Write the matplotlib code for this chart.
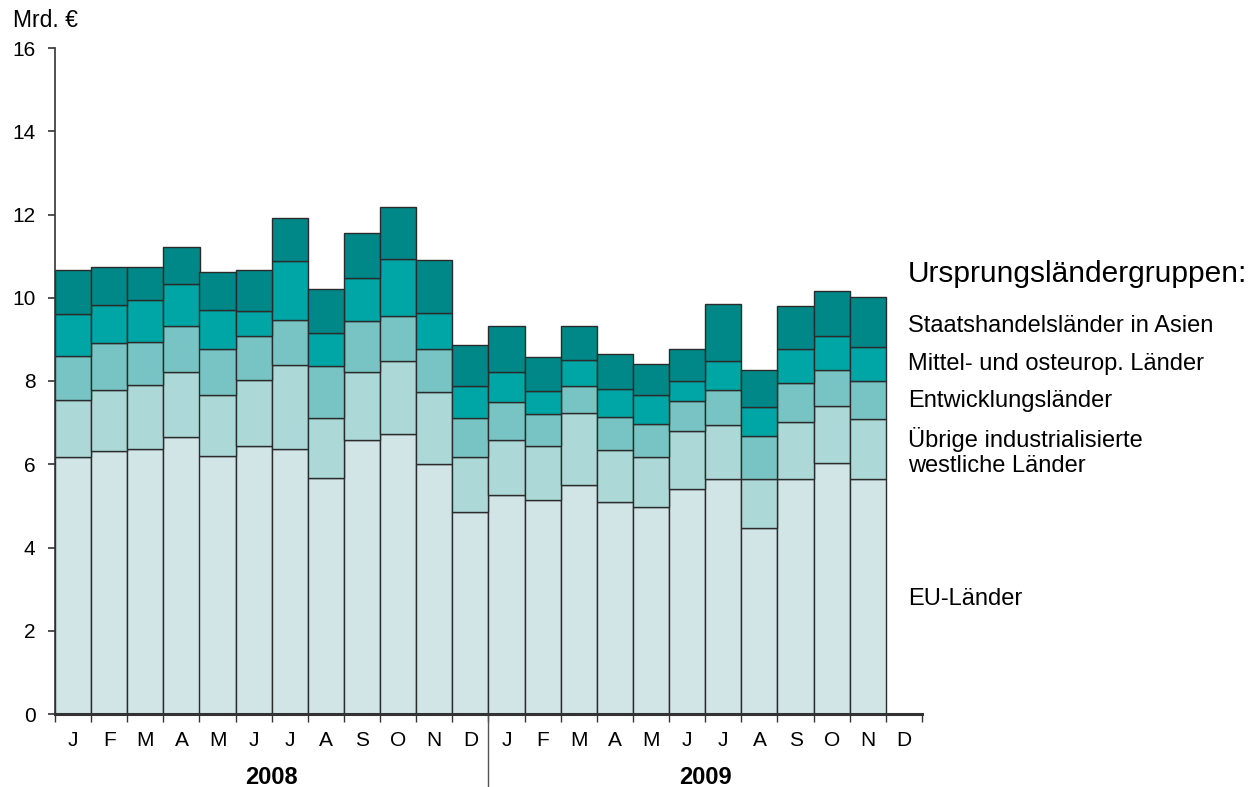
import numpy as np
import matplotlib
matplotlib.use("Agg")
import matplotlib.pyplot as plt
import matplotlib.transforms as mtransforms

plt.rcParams['font.family'] = ['Liberation Sans', 'DejaVu Sans']

# monthly imports by country group, Mrd. EUR (Jan 2008 .. Nov 2009)
months = ['J', 'F', 'M', 'A', 'M', 'J', 'J', 'A', 'S', 'O', 'N', 'D',
          'J', 'F', 'M', 'A', 'M', 'J', 'J', 'A', 'S', 'O', 'N', 'D']
years = ['2008', '2009']

eu = [6.17, 6.32, 6.37, 6.65, 6.21, 6.43, 6.37, 5.67, 6.58, 6.73, 6.00, 4.85,
      5.25, 5.13, 5.50, 5.09, 4.97, 5.41, 5.65, 4.46, 5.65, 6.04, 5.65]
uebrige = [1.37, 1.47, 1.54, 1.57, 1.45, 1.59, 2.01, 1.43, 1.64, 1.76, 1.74, 1.33,
           1.33, 1.32, 1.74, 1.26, 1.20, 1.38, 1.29, 1.18, 1.37, 1.36, 1.43]
entwicklung = [1.06, 1.13, 1.03, 1.10, 1.11, 1.06, 1.08, 1.26, 1.21, 1.08, 1.03, 0.92,
               0.92, 0.76, 0.65, 0.79, 0.80, 0.73, 0.84, 1.05, 0.92, 0.86, 0.93]
mittelost = [1.02, 0.91, 1.01, 1.00, 0.94, 0.60, 1.42, 0.80, 1.04, 1.35, 0.87, 0.79,
             0.72, 0.54, 0.61, 0.66, 0.69, 0.48, 0.71, 0.69, 0.82, 0.82, 0.81]
staats = [1.04, 0.92, 0.78, 0.90, 0.92, 0.99, 1.03, 1.04, 1.08, 1.26, 1.26, 0.98,
          1.10, 0.83, 0.81, 0.86, 0.76, 0.78, 1.35, 0.88, 1.04, 1.09, 1.21]

series = [eu, uebrige, entwicklung, mittelost, staats]
colors = ['#d1e4e6', '#acd8d8', '#78c4c4', '#00a6a6', '#008888']

fig = plt.figure(figsize=(12.6, 7.87), dpi=100)
ax = fig.add_axes([55/1260, 1-714/787, 867/1260, 666/787])

x = np.arange(len(eu))
bottom = np.zeros(len(eu))
for vals, c in zip(series, colors):
    ax.bar(x, vals, width=1.0, bottom=bottom, color=c, edgecolor='#2b2b2b', linewidth=1.0)
    bottom += np.array(vals)

ax.set_xlim(-0.5, 23.5)
ax.set_ylim(0, 16)
ax.spines['top'].set_visible(False)
ax.spines['right'].set_visible(False)
ax.spines['left'].set_color('#333333')
ax.spines['bottom'].set_color('#333333')
ax.spines['left'].set_linewidth(1.2)
ax.spines['bottom'].set_linewidth(2.2)

ax.set_yticks(range(0, 17, 2))
ax.tick_params(axis='y', length=5, width=1.2, color='#333333', pad=9, labelsize=15)

# ticks between the months, labels centred on the bars
ax.set_xticks(np.arange(-0.5, 24, 1))
ax.set_xticklabels([])
ax.tick_params(axis='x', which='major', length=6, width=1.0, color='#333333')
ax.set_xticks(np.arange(24), minor=True)
ax.set_xticklabels(months, minor=True)
ax.tick_params(axis='x', which='minor', length=0, pad=12, labelsize=15)

# year labels and separator
trans = mtransforms.blended_transform_factory(ax.transData, ax.transAxes)
ax.text(5.5, -0.095, years[0], transform=trans, ha='center', va='center',
        fontsize=17, fontweight='bold')
ax.text(17.5, -0.095, years[1], transform=trans, ha='center', va='center',
        fontsize=17, fontweight='bold')
ax.plot([11.5, 11.5], [0, -0.11], transform=trans, color='#555555', lw=1.0, clip_on=False)

fig.text(13/1260, 1-27/787, 'Mrd. €', fontsize=16.5, va='baseline')

# legend as text labels
lx = 908/1260
fig.text(lx, 1-282/787, 'Ursprungsländergruppen:', fontsize=21.5, va='baseline')
fig.text(lx, 1-332/787, 'Staatshandelsländer in Asien', fontsize=17, va='baseline')
fig.text(lx, 1-370/787, 'Mittel- und osteurop. Länder', fontsize=17, va='baseline')
fig.text(lx, 1-407/787, 'Entwicklungsländer', fontsize=17, va='baseline')
fig.text(lx, 1-447/787, 'Übrige industrialisierte', fontsize=17, va='baseline')
fig.text(lx, 1-472/787, 'westliche Länder', fontsize=17, va='baseline')
fig.text(lx, 1-605/787, 'EU-Länder', fontsize=17, va='baseline')

fig.savefig('out.png', dpi=100)
